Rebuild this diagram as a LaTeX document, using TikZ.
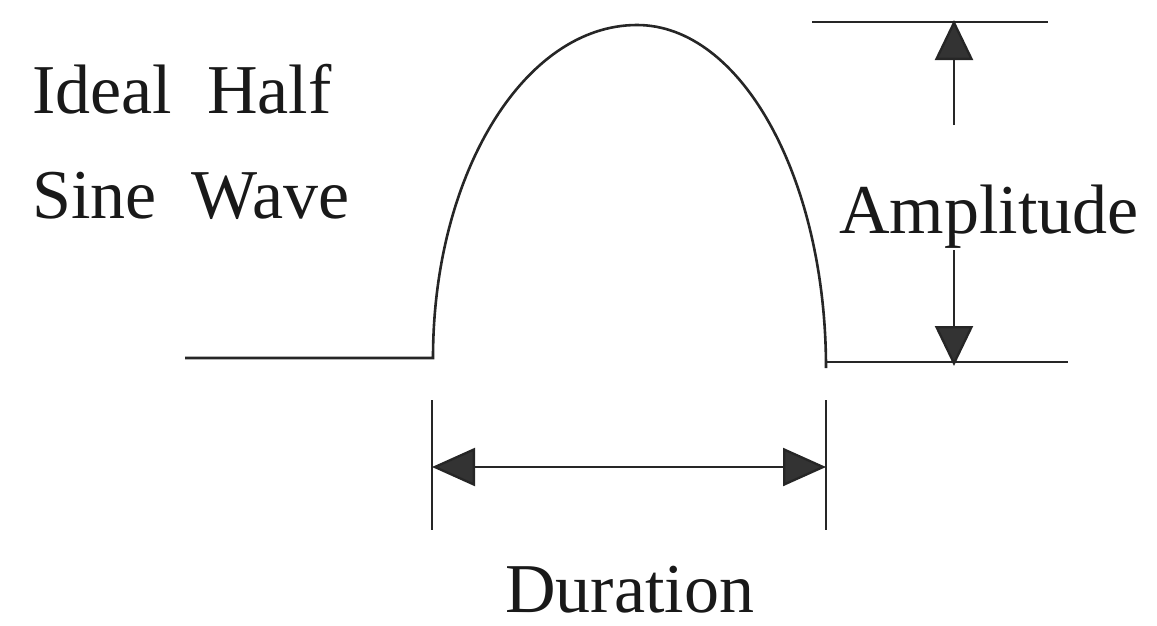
\documentclass[tikz,border=0pt]{standalone}
\usepackage{fontspec}
\setmainfont{Liberation Serif}
\usetikzlibrary{arrows.meta}
\begin{document}
\begin{tikzpicture}[x=1pt,y=1pt,
  wave/.style={line width=2.6pt,draw=black!85},
  dimline/.style={line width=2.3pt,draw=black!85},
  dimarrow/.style={line width=2.3pt,draw=black!85,-{Triangle[length=40pt,width=38pt,fill=black!80]}},
  lbl/.style={font=\fontsize{70}{80}\selectfont,anchor=base west,inner sep=0pt,text=black!90}]
\useasboundingbox (0,0) rectangle (1157,-625);
% wave
\coordinate (b0) at (185,-358);
\coordinate (s0) at (433,-358);
\coordinate (pk) at (637,-25);
\coordinate (s1) at (826,-368);
\coordinate (b1) at (1068,-362);
\draw[wave] (b0) -- (s0) arc[start angle=180,end angle=90,x radius=204,y radius=333]
  arc[start angle=90,end angle=0,x radius=189,y radius=343];
\draw[wave] (826,-362) -- (b1);
% amplitude
\coordinate (t0) at (812,-22);
\coordinate (t1) at (1048,-22);
\draw[dimline] (t0) -- (t1);
\coordinate (au) at (954,-125);
\coordinate (aut) at (954,-20);
\coordinate (ad) at (954,-250);
\coordinate (adt) at (954,-366);
\draw[dimarrow] (au) -- (aut);
\draw[dimarrow] (ad) -- (adt);
% duration
\coordinate (l0) at (432,-400);
\coordinate (l1) at (432,-530);
\coordinate (r0) at (826,-400);
\coordinate (r1) at (826,-530);
\draw[dimline] (l0) -- (l1);
\draw[dimline] (r0) -- (r1);
\coordinate (dl) at (432,-467);
\coordinate (dr) at (826,-467);
\draw[dimline,{Triangle[length=43pt,width=38pt,fill=black!80]}-{Triangle[length=43pt,width=38pt,fill=black!80]}] (dl) -- (dr);
% labels
\node[lbl] (ideal) at (32,-113) {Ideal\hspace{0.5em}Half};
\node[lbl] (sine) at (32,-218) {Sine\hspace{0.5em}Wave};
\node[lbl] (amp) at (839,-233) {Amplitude};
\node[lbl] (dur) at (505,-612) {Duration};
\end{tikzpicture}
\end{document}
